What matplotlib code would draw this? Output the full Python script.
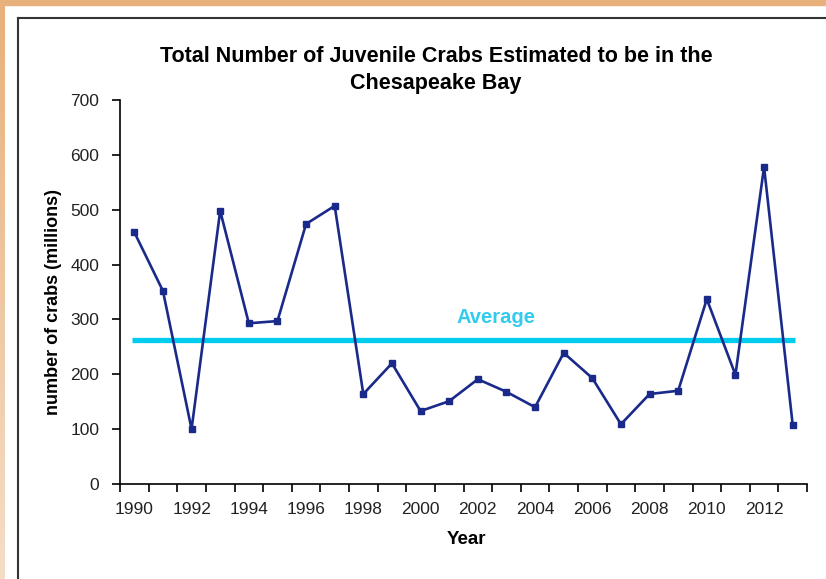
import numpy as np
import matplotlib.pyplot as plt
from matplotlib.lines import Line2D

plt.rcParams['font.family'] = ['Liberation Sans', 'DejaVu Sans']

# survey data, millions of juvenile crabs
years = list(range(1990, 2014))
crabs = [459, 352, 100, 498, 293, 297, 474, 507, 164, 220, 133, 151,
         191, 168, 140, 239, 193, 109, 164, 170, 337, 199, 578, 108]
average = 262
y_ticks = [0, 100, 200, 300, 400, 500, 600, 700]

W, H = 826, 579
fig = plt.figure(figsize=(W / 100, H / 100), dpi=100)
fig.patch.set_facecolor('white')

# orange page frame: top strip and a fading left strip
fig.patches.append(plt.Rectangle((0, 1 - 5 / H), 1, 5 / H, transform=fig.transFigure,
                                 color='#E8B07A', zorder=0))
strip = fig.add_axes([0, 0, 5 / W, 1 - 5 / H])
grad = np.linspace(0, 1, 256).reshape(-1, 1)
top_c = np.array([0xE8, 0xB0, 0x7A]) / 255
bot_c = np.array([0xF5, 0xDE, 0xC8]) / 255
strip.imshow(top_c + (bot_c - top_c) * grad[:, :, None], aspect='auto')
strip.axis('off')

# dark border of the chart area (runs off the right and bottom edges)
fig.add_artist(Line2D([18 / W, 18 / W], [0, 1 - 18 / H], transform=fig.transFigure,
                      color='#333333', lw=1.5))
fig.add_artist(Line2D([18 / W, 1], [1 - 18 / H, 1 - 18 / H], transform=fig.transFigure,
                      color='#333333', lw=1.5))

ax = fig.add_axes([120 / W, 1 - 484 / H, 687 / W, 384 / H])
x = np.arange(len(years)) + 0.5

ax.hlines(average, 0.42, len(years) - 0.42, color='#00CCEE', lw=3.8, zorder=2)
ax.plot(x, crabs, color='#1A2A8A', lw=1.9, marker='s', markersize=5, zorder=3)
ax.text(13.15, average + 42, 'Average', color='#33CCEE', fontsize=14.5,
        fontweight='bold', ha='center', va='center')

ax.set_xlim(0, len(years))
ax.set_ylim(0, 700)
ax.set_yticks(y_ticks)
ax.set_xticks(np.arange(len(years) + 1))
ax.set_xticklabels([])
ax.set_xticks(x[::2], minor=True)
ax.set_xticklabels([str(y) for y in years[::2]], minor=True)
ax.tick_params(axis='x', which='minor', length=0, pad=13, labelsize=12.5, colors='#222222')
ax.tick_params(axis='x', which='major', direction='out', length=6, width=1.2)
ax.tick_params(axis='y', direction='out', length=6, width=1.2, labelsize=12.5,
               labelcolor='#222222', pad=9)
for s in ['top', 'right']:
    ax.spines[s].set_visible(False)
for s in ['left', 'bottom']:
    ax.spines[s].set_linewidth(1.2)

ax.set_xlabel('Year', fontsize=13.5, fontweight='bold')
ax.xaxis.set_label_coords((466 - 120) / 687, -(540 - 484) / 384)
ax.xaxis.label.set_va('center')
ax.set_ylabel('number of crabs (millions)', fontsize=13, fontweight='bold')
ax.yaxis.set_label_coords(-(120 - 54) / 687, (484 - 302) / 384)
ax.yaxis.label.set_va('center')
fig.text(436 / W, 1 - 70 / H,
         'Total Number of Juvenile Crabs Estimated to be in the\nChesapeake Bay',
         ha='center', va='center', fontsize=15.5, fontweight='bold', linespacing=1.38)

fig.savefig('out.png', dpi=100)
